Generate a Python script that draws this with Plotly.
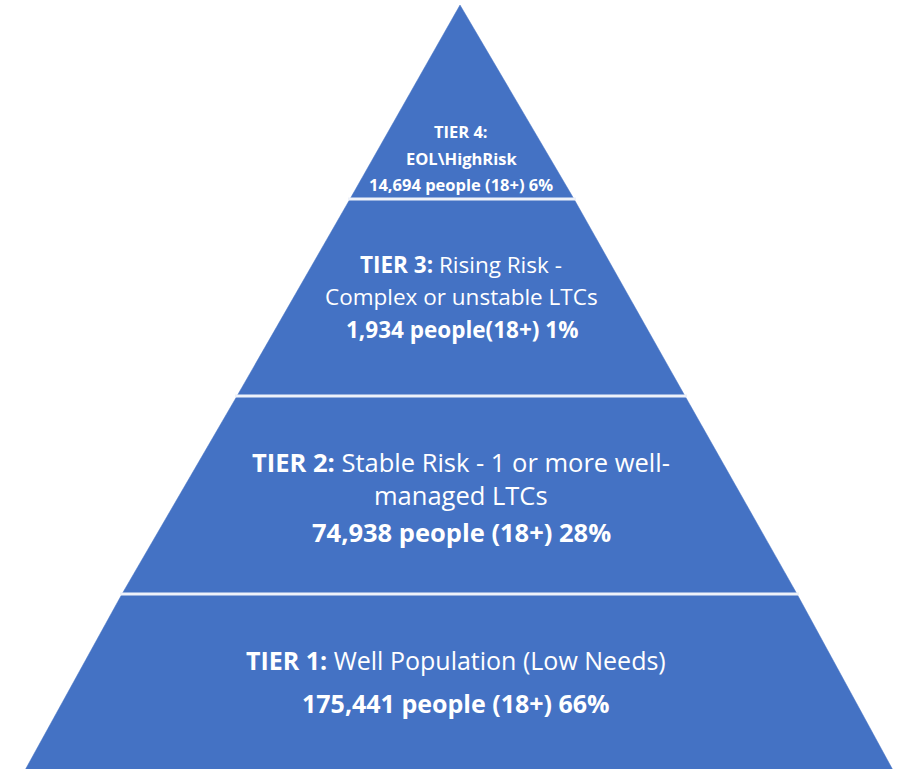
import plotly.graph_objects as go

# Tier content, top of the pyramid first
tier_names = ["TIER 4:", "TIER 3:", "TIER 2:", "TIER 1:"]
tier_descriptions = [
    ["EOL\\HighRisk"],
    ["Rising Risk -", "Complex or unstable LTCs"],
    ["Stable Risk - 1 or more well-", "managed LTCs"],
    ["Well Population (Low Needs)"],
]
people_counts = [14694, 1934, 74938, 175441]
people_shares = [6, 1, 28, 66]
count_separators = [" ", "", " ", " "]  # tier 3 label is written "people(18+)"

# Pyramid outline (page pixels): band boundaries and edge positions
band_y = [5, 199, 396, 594, 772]
left_x = [460, 350, 237, 122, 24]
right_x = [460, 574, 685, 797, 894]

BLUE = "#4472C4"
FONT = "Open Sans"

fig = go.Figure()

# one filled band per tier
for i in range(4):
    xs = [left_x[i], right_x[i], right_x[i + 1], left_x[i + 1], left_x[i]]
    ys = [band_y[i], band_y[i], band_y[i + 1], band_y[i + 1], band_y[i]]
    fig.add_trace(go.Scatter(x=xs, y=ys, mode="lines", fill="toself",
                             fillcolor=BLUE, line=dict(color=BLUE, width=0.5),
                             hoverinfo="skip", showlegend=False))

# white separators between tiers
for j in (1, 2, 3):
    fig.add_trace(go.Scatter(x=[left_x[j] - 2, right_x[j] + 2], y=[band_y[j], band_y[j]],
                             mode="lines", line=dict(color="#EEF2FA", width=3),
                             hoverinfo="skip", showlegend=False))


def count_label(i):
    return f"<b>{people_counts[i]:,} people{count_separators[i]}(18+) {people_shares[i]}%</b>"


# text rows: (x, y, text, size)
rows = []
# tier 4 (small type)
rows.append((461, 131, f"<b>{tier_names[0]}</b>", 16.5))
rows.append((461, 158, f"<b>{tier_descriptions[0][0]}</b>", 16.5))
rows.append((461, 184, count_label(0), 16.5))
# tier 3
rows.append((461, 264, f"<b>{tier_names[1]}</b> {tier_descriptions[1][0]}", 22.5))
rows.append((461, 296, tier_descriptions[1][1], 22.5))
rows.append((462, 329, count_label(1), 22.5))
# tier 2
rows.append((461, 462, f"<b>{tier_names[2]}</b> {tier_descriptions[2][0]}", 25.5))
rows.append((461, 495, tier_descriptions[2][1], 25.5))
rows.append((461, 532, count_label(2), 25.5))
# tier 1
rows.append((456, 660, f"<b>{tier_names[3]}</b> {tier_descriptions[3][0]}", 25))
rows.append((456, 703, count_label(3), 25))

for x, y, text, size in rows:
    fig.add_annotation(x=x, y=y, text=text, showarrow=False, xanchor="center",
                       yanchor="middle", font=dict(family=FONT, size=size, color="white"))

fig.update_layout(
    width=902, height=769,
    margin=dict(l=0, r=0, t=0, b=0),
    paper_bgcolor="white", plot_bgcolor="white",
    xaxis=dict(range=[0, 902], visible=False, fixedrange=True),
    yaxis=dict(range=[769, 0], visible=False, fixedrange=True),
)

fig.write_html("out.html")
